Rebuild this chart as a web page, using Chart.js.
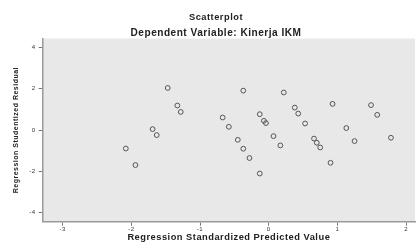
<!DOCTYPE html>
<html>
<head>
<meta charset="utf-8">
<script src="https://cdn.jsdelivr.net/npm/chart.js@4"></script>
<style>
  html, body { margin: 0; padding: 0; background: #fff; }
  #wrap { width: 420px; height: 244px; }
</style>
</head>
<body>
<div id="wrap"><canvas id="scatterChart" width="420" height="244"></canvas></div>
<script>
// Scatterplot data
const predicted = [
  -2.08, -1.94, -1.69, -1.63, -1.47, -1.33, -1.28,
  -0.67, -0.58, -0.45, -0.37, -0.37, -0.28, -0.13, -0.13, -0.07, -0.04, 0.07,
  0.17, 0.22, 0.38, 0.43, 0.53, 0.66, 0.70, 0.75, 0.90, 0.93,
  1.13, 1.25, 1.49, 1.58, 1.78
];
const residual = [
  -0.89, -1.69, 0.05, -0.24, 2.04, 1.19, 0.88,
  0.61, 0.16, -0.47, 1.91, -0.90, -1.35, -2.10, 0.77, 0.45, 0.34, -0.29,
  -0.74, 1.82, 1.09, 0.80, 0.32, -0.41, -0.61, -0.84, -1.58, 1.27,
  0.10, -0.53, 1.21, 0.74, -0.37
];
const xTicks = [-3, -2, -1, 0, 1, 2];
const yTicks = [-4, -2, 0, 2, 4];

const points = predicted.map((x, i) => ({ x: x, y: residual[i] }));

// grey plot background like SPSS, plus slightly wide SPSS lettering
const plotBackground = {
  id: 'plotBackground',
  beforeDraw(chart) {
    const { ctx, chartArea } = chart;
    ctx.letterSpacing = '0.5px';
    ctx.save();
    ctx.fillStyle = '#e8e8e8';
    ctx.fillRect(chartArea.left, chartArea.top, chartArea.right - chartArea.left, chartArea.bottom - chartArea.top);
    ctx.restore();
  }
};

const ctx = document.getElementById('scatterChart').getContext('2d');
new Chart(ctx, {
  type: 'scatter',
  data: {
    datasets: [{
      data: points,
      pointStyle: 'circle',
      pointRadius: 2.4,
      pointBorderWidth: 1,
      pointBorderColor: '#555555',
      pointBackgroundColor: 'rgba(0,0,0,0)'
    }]
  },
  options: {
    responsive: false,
    animation: false,
    layout: { padding: { left: 12, right: 0, top: 0, bottom: 0 } },
    plugins: {
      legend: { display: false },
      tooltip: { enabled: false },
      title: {
        display: true,
        text: 'Scatterplot',
        color: '#222',
        font: { family: 'Liberation Sans', size: 9.3, weight: 'bold', lineHeight: 1 },
        padding: { top: 12.35, bottom: 6.3 }
      },
      subtitle: {
        display: true,
        text: 'Dependent Variable: Kinerja IKM',
        color: '#222',
        font: { family: 'Liberation Sans', size: 10.1, weight: 'bold', lineHeight: 1 },
        padding: { top: 0, bottom: 0.5 }
      }
    },
    scales: {
      x: {
        type: 'linear',
        min: -3.29,
        max: 2.13,
        afterBuildTicks: (scale) => { scale.ticks = xTicks.map(v => ({ value: v })); },
        afterFit: (scale) => { scale.height = 22.3; },
        grid: { drawOnChartArea: false, tickLength: 4, color: '#777' },
        border: { display: true, color: '#999', width: 1.5 },
        ticks: {
          color: '#333',
          padding: 0,
          font: { family: 'Liberation Sans', size: 6 }
        },
        title: {
          display: true,
          text: 'Regression Standardized Predicted Value',
          color: '#222',
          padding: { top: 2, bottom: 0.5 },
          font: { family: 'Liberation Sans', size: 9.3, weight: 'bold' }
        }
      },
      y: {
        type: 'linear',
        min: -4.43,
        max: 4.43,
        afterBuildTicks: (scale) => { scale.ticks = yTicks.map(v => ({ value: v })); },
        afterFit: (scale) => { scale.width = 30.7; },
        grid: { drawOnChartArea: false, tickLength: 4, color: '#777' },
        border: { display: true, color: '#999', width: 1.5 },
        ticks: {
          color: '#333',
          padding: 3,
          font: { family: 'Liberation Sans', size: 6 }
        },
        title: {
          display: true,
          text: 'Regression Studentized Residual',
          color: '#222',
          padding: { top: 0, bottom: 3 },
          font: { family: 'Liberation Sans', size: 7, weight: 'bold' }
        }
      }
    }
  },
  plugins: [plotBackground]
});
</script>
</body>
</html>
